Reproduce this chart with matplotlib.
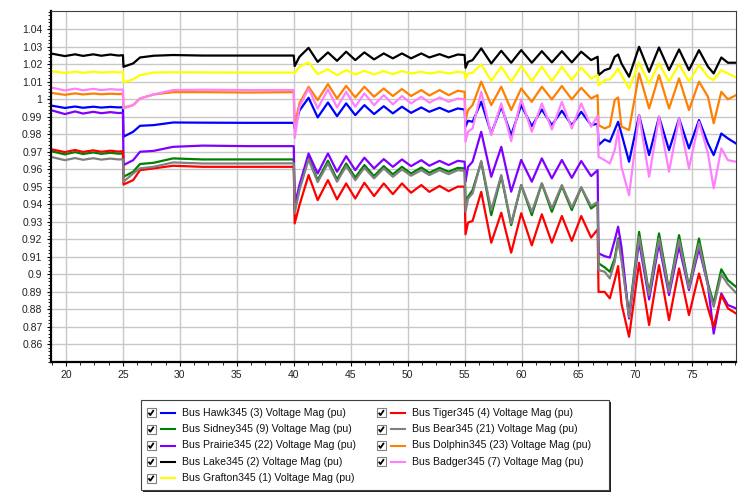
import numpy as np
import matplotlib.pyplot as plt
from matplotlib.patches import Rectangle
from matplotlib.ticker import MultipleLocator

plt.rcParams['font.family'] = ['Liberation Sans', 'DejaVu Sans']

# simulation time (s); the four faults hit at 25, 40, 55 and ~66.7 s
time_s = [18.66, 19.9, 20.8, 21.5, 22.4, 23.1, 23.9, 24.6, 25.0,
          25.05, 25.9, 26.5, 27.7, 29.4, 32.0, 36.0, 40.0,
          40.08, 40.5, 41.3, 42.1, 43.0, 43.8, 44.6, 45.4, 46.2, 47.05,
          47.9, 48.7, 49.5, 50.3, 51.2, 51.9, 52.8, 53.6, 54.4, 55.0,
          55.08, 55.3, 55.7, 56.46, 57.34, 58.22, 59.09, 59.97, 60.9, 61.78,
          62.66, 63.54, 64.41, 65.24, 66.11, 66.68,
          66.76, 67.3, 67.75, 68.18, 68.48, 68.77, 69.44, 70.32, 71.2, 72.07,
          72.95, 73.83, 74.7, 75.58, 76.37, 76.87, 77.54, 78.12, 78.83]

# bus voltage magnitudes (pu)
hawk = [0.9964, 0.9950, 0.9958, 0.9951, 0.9957, 0.9952, 0.9956, 0.9953, 0.9954,
        0.9786, 0.9814, 0.9848, 0.9852, 0.9867, 0.9866, 0.9865, 0.9865,
        0.9833, 0.9935, 1.0008, 0.9896, 0.9981, 0.9903, 0.9976, 0.9909, 0.9966, 0.9915,
        0.9960, 0.9919, 0.9957, 0.9922, 0.9953, 0.9928, 0.9951, 0.9928, 0.9947, 0.9941,
        0.9843, 0.9877, 0.9871, 0.9985, 0.9804, 0.9957, 0.9795, 0.9966, 0.9846, 0.9941,
        0.9852, 0.9934, 0.9852, 0.9928, 0.9852, 0.9860,
        0.9738, 0.9770, 0.9757, 0.9824, 0.9871, 0.9804, 0.9643, 0.9909, 0.9681, 0.9900,
        0.9709, 0.9890, 0.9719, 0.9881, 0.9747, 0.9681, 0.9804, 0.9776, 0.9747]

sidney = [0.9704, 0.9685, 0.9698, 0.9687, 0.9696, 0.9688, 0.9694, 0.9689, 0.9690,
          0.9557, 0.9586, 0.9630, 0.9637, 0.9662, 0.9656, 0.9656, 0.9656,
          0.9370, 0.9500, 0.9668, 0.9538, 0.9649, 0.9542, 0.9633, 0.9553, 0.9624, 0.9561,
          0.9618, 0.9571, 0.9614, 0.9576, 0.9610, 0.9580, 0.9608, 0.9586, 0.9608, 0.9605,
          0.9424, 0.9443, 0.9481, 0.9643, 0.9338, 0.9561, 0.9281, 0.9510, 0.9338, 0.9519,
          0.9357, 0.9504, 0.9367, 0.9496, 0.9376, 0.9405,
          0.9063, 0.9040, 0.9015, 0.9091, 0.9205, 0.9101, 0.8767, 0.9243, 0.8891, 0.9234,
          0.8910, 0.9224, 0.8929, 0.9205, 0.8948, 0.8834, 0.9029, 0.8967, 0.8929]

prairie = [0.9938, 0.9915, 0.9930, 0.9918, 0.9928, 0.9920, 0.9926, 0.9921, 0.9922,
           0.9624, 0.9652, 0.9700, 0.9705, 0.9728, 0.9735, 0.9732, 0.9732,
           0.9395, 0.9510, 0.9690, 0.9576, 0.9690, 0.9586, 0.9675, 0.9595, 0.9666, 0.9605,
           0.9658, 0.9614, 0.9656, 0.9618, 0.9652, 0.9620, 0.9648, 0.9624, 0.9648, 0.9643,
           0.9529, 0.9614, 0.9643, 0.9814, 0.9557, 0.9728, 0.9472, 0.9653, 0.9529, 0.9662,
           0.9548, 0.9653, 0.9551, 0.9647, 0.9561, 0.9595,
           0.9120, 0.9104, 0.9096, 0.9195, 0.9272, 0.9158, 0.8748, 0.9186, 0.8857, 0.9176,
           0.8882, 0.9161, 0.8910, 0.9148, 0.8938, 0.8662, 0.8891, 0.8825, 0.8806]

lake = [1.0261, 1.0246, 1.0256, 1.0247, 1.0256, 1.0248, 1.0255, 1.0249, 1.0251,
        1.0185, 1.0204, 1.0238, 1.0248, 1.0252, 1.0249, 1.0249, 1.0249,
        1.0189, 1.0242, 1.0293, 1.0213, 1.0267, 1.0219, 1.0271, 1.0223, 1.0267, 1.0227,
        1.0261, 1.0233, 1.0261, 1.0233, 1.0261, 1.0238, 1.0257, 1.0238, 1.0255, 1.0252,
        1.0179, 1.0213, 1.0223, 1.0290, 1.0204, 1.0276, 1.0208, 1.0280, 1.0208, 1.0274,
        1.0210, 1.0274, 1.0210, 1.0271, 1.0223, 1.0242,
        1.0137, 1.0166, 1.0175, 1.0242, 1.0255, 1.0204, 1.0128, 1.0299, 1.0156, 1.0295,
        1.0166, 1.0284, 1.0166, 1.0280, 1.0185, 1.0147, 1.0238, 1.0208, 1.0208]

grafton = [1.0160, 1.0150, 1.0157, 1.0151, 1.0157, 1.0152, 1.0156, 1.0153, 1.0154,
           1.0096, 1.0113, 1.0137, 1.0152, 1.0154, 1.0153, 1.0152, 1.0152,
           1.0148, 1.0185, 1.0210, 1.0143, 1.0170, 1.0137, 1.0166, 1.0141, 1.0162, 1.0141,
           1.0160, 1.0143, 1.0160, 1.0147, 1.0156, 1.0147, 1.0156, 1.0147, 1.0156, 1.0151,
           1.0118, 1.0147, 1.0151, 1.0198, 1.0105, 1.0185, 1.0100, 1.0189, 1.0103, 1.0185,
           1.0103, 1.0185, 1.0109, 1.0181, 1.0118, 1.0137,
           1.0080, 1.0109, 1.0113, 1.0147, 1.0175, 1.0137, 1.0061, 1.0208, 1.0090, 1.0204,
           1.0100, 1.0200, 1.0100, 1.0195, 1.0128, 1.0109, 1.0166, 1.0147, 1.0124]

tiger = [0.9715, 0.9698, 0.9710, 0.9699, 0.9708, 0.9700, 0.9706, 0.9701, 0.9703,
         0.9513, 0.9538, 0.9595, 0.9605, 0.9620, 0.9614, 0.9614, 0.9614,
         0.9291, 0.9395, 0.9567, 0.9424, 0.9538, 0.9428, 0.9519, 0.9433, 0.9523, 0.9447,
         0.9519, 0.9458, 0.9519, 0.9466, 0.9510, 0.9471, 0.9505, 0.9475, 0.9501, 0.9501,
         0.9229, 0.9296, 0.9305, 0.9471, 0.9181, 0.9352, 0.9124, 0.9349, 0.9166, 0.9343,
         0.9181, 0.9333, 0.9191, 0.9333, 0.9210, 0.9257,
         0.8900, 0.8900, 0.8863, 0.8967, 0.9047, 0.8834, 0.8644, 0.9066, 0.8711, 0.9053,
         0.8739, 0.9034, 0.8768, 0.9005, 0.8806, 0.8701, 0.8882, 0.8806, 0.8777]

bear = [0.9671, 0.9652, 0.9664, 0.9654, 0.9663, 0.9655, 0.9661, 0.9656, 0.9657,
        0.9529, 0.9576, 0.9605, 0.9614, 0.9639, 0.9633, 0.9633, 0.9634,
        0.9350, 0.9481, 0.9656, 0.9527, 0.9633, 0.9529, 0.9618, 0.9538, 0.9608, 0.9548,
        0.9605, 0.9557, 0.9599, 0.9563, 0.9595, 0.9567, 0.9595, 0.9572, 0.9595, 0.9591,
        0.9357, 0.9433, 0.9462, 0.9647, 0.9367, 0.9567, 0.9291, 0.9510, 0.9357, 0.9519,
        0.9376, 0.9510, 0.9382, 0.9496, 0.9390, 0.9414,
        0.9025, 0.9015, 0.8977, 0.9072, 0.9196, 0.9082, 0.8757, 0.9214, 0.8882, 0.9205,
        0.8901, 0.9196, 0.8920, 0.9176, 0.8933, 0.8815, 0.9000, 0.8943, 0.8895]

dolphin = [1.0036, 1.0025, 1.0033, 1.0027, 1.0032, 1.0028, 1.0031, 1.0029, 1.0030,
           0.9952, 0.9966, 1.0004, 1.0027, 1.0040, 1.0040, 1.0038, 1.0040,
           0.9852, 0.9976, 1.0071, 0.9995, 1.0086, 1.0004, 1.0076, 1.0010, 1.0071, 1.0014,
           1.0061, 1.0018, 1.0058, 1.0018, 1.0052, 1.0021, 1.0052, 1.0023, 1.0048, 1.0042,
           0.9880, 0.9938, 0.9966, 1.0100, 0.9966, 1.0071, 0.9938, 1.0061, 0.9985, 1.0071,
           0.9999, 1.0075, 0.9999, 1.0065, 1.0004, 1.0023,
           0.9852, 0.9833, 0.9846, 0.9995, 1.0010, 0.9843, 0.9824, 1.0147, 0.9947, 1.0137,
           0.9947, 1.0118, 0.9938, 1.0100, 1.0014, 0.9862, 1.0042, 0.9999, 1.0023]

badger = [1.0067, 1.0050, 1.0060, 1.0051, 1.0059, 1.0052, 1.0057, 1.0054, 1.0055,
          0.9947, 0.9966, 1.0004, 1.0027, 1.0052, 1.0054, 1.0052, 1.0052,
          0.9778, 0.9957, 1.0061, 0.9947, 1.0056, 0.9953, 1.0042, 0.9957, 1.0033, 0.9966,
          1.0023, 0.9970, 1.0018, 0.9976, 1.0014, 0.9980, 1.0010, 0.9985, 1.0004, 1.0000,
          0.9757, 0.9814, 0.9833, 1.0042, 0.9795, 0.9976, 0.9761, 0.9999, 0.9814, 0.9976,
          0.9827, 0.9985, 0.9833, 0.9976, 0.9843, 0.9905,
          0.9671, 0.9652, 0.9633, 0.9709, 0.9824, 0.9614, 0.9452, 0.9909, 0.9557, 0.9900,
          0.9586, 0.9890, 0.9605, 0.9871, 0.9690, 0.9491, 0.9719, 0.9652, 0.9643]

labels = ['Bus Hawk345 (3) Voltage Mag (pu)',
          'Bus Sidney345 (9) Voltage Mag (pu)',
          'Bus Prairie345 (22) Voltage Mag (pu)',
          'Bus Lake345 (2) Voltage Mag (pu)',
          'Bus Grafton345 (1) Voltage Mag (pu)',
          'Bus Tiger345 (4) Voltage Mag (pu)',
          'Bus Bear345 (21) Voltage Mag (pu)',
          'Bus Dolphin345 (23) Voltage Mag (pu)',
          'Bus Badger345 (7) Voltage Mag (pu)']
series = [hawk, sidney, prairie, lake, grafton, tiger, bear, dolphin, badger]
colors = ['#0000ff', '#008000', '#8000ff', '#000000', '#ffff00',
          '#ff0000', '#808080', '#ff8000', '#ff80ff']

fig = plt.figure(figsize=(7.46, 5.0), dpi=100)
ax = fig.add_axes([0.068, 0.276, 0.9186, 0.7026])

for vals, c in zip(series, colors):
    ax.plot(time_s, vals, color=c, lw=1.6, solid_joinstyle='round')

ax.set_xlim(18.66, 78.83)
ax.set_ylim(0.85, 1.0505)
ax.xaxis.set_major_locator(MultipleLocator(5))
ax.xaxis.set_minor_locator(MultipleLocator(1.25))
yt = np.round(np.arange(0.86, 1.045, 0.01), 2)
ax.set_yticks(yt)
ax.set_yticklabels([f'{v:g}' for v in yt])
ax.yaxis.set_minor_locator(MultipleLocator(0.002))

ax.set_axisbelow(True)
ax.grid(True, which='major', color='#c8c8c8', lw=1)
ax.tick_params(which='major', direction='out', length=3, width=0.8,
               labelsize=7.5, labelcolor='#222222', pad=3)
ax.tick_params(which='minor', direction='out', length=2, width=0.6)

for side in ('left', 'bottom'):
    ax.spines[side].set_linewidth(1.6)
    ax.spines[side].set_color('black')
for side in ('top', 'right'):
    ax.spines[side].set_linewidth(0.8)
    ax.spines[side].set_color('#404040')

# legend panel with check boxes, drawn in pixel coordinates
lax = fig.add_axes([0, 0, 1, 1], zorder=5)
lax.set_xlim(0, 746)
lax.set_ylim(500, 0)
lax.axis('off')
lax.add_patch(Rectangle((143, 402), 468, 90, facecolor='#202020', edgecolor='none'))
lax.add_patch(Rectangle((141, 400), 468, 90, facecolor='white', edgecolor='#404040', lw=0.8))

rows_y = [412.7, 429.3, 445.5, 461.7, 478.3]
cols_x = [146.5, 376.7]
for i, (lab, c) in enumerate(zip(labels, colors)):
    x0 = cols_x[0] if i < 5 else cols_x[1]
    y0 = rows_y[i if i < 5 else i - 5]
    lax.add_patch(Rectangle((x0, y0 - 4.5), 9, 9, facecolor='white',
                            edgecolor='#808080', lw=0.8))
    lax.plot([x0 + 2, x0 + 3.8, x0 + 7.2], [y0, y0 + 2.4, y0 - 2.6],
             color='black', lw=1.3, solid_capstyle='butt')
    lax.plot([x0 + 14, x0 + 28.5], [y0, y0], color=c, lw=1.5)
    lax.text(x0 + 35, y0, lab, fontsize=7.6, va='center', ha='left', color='#111111')

fig.savefig('out.png', dpi=100)
